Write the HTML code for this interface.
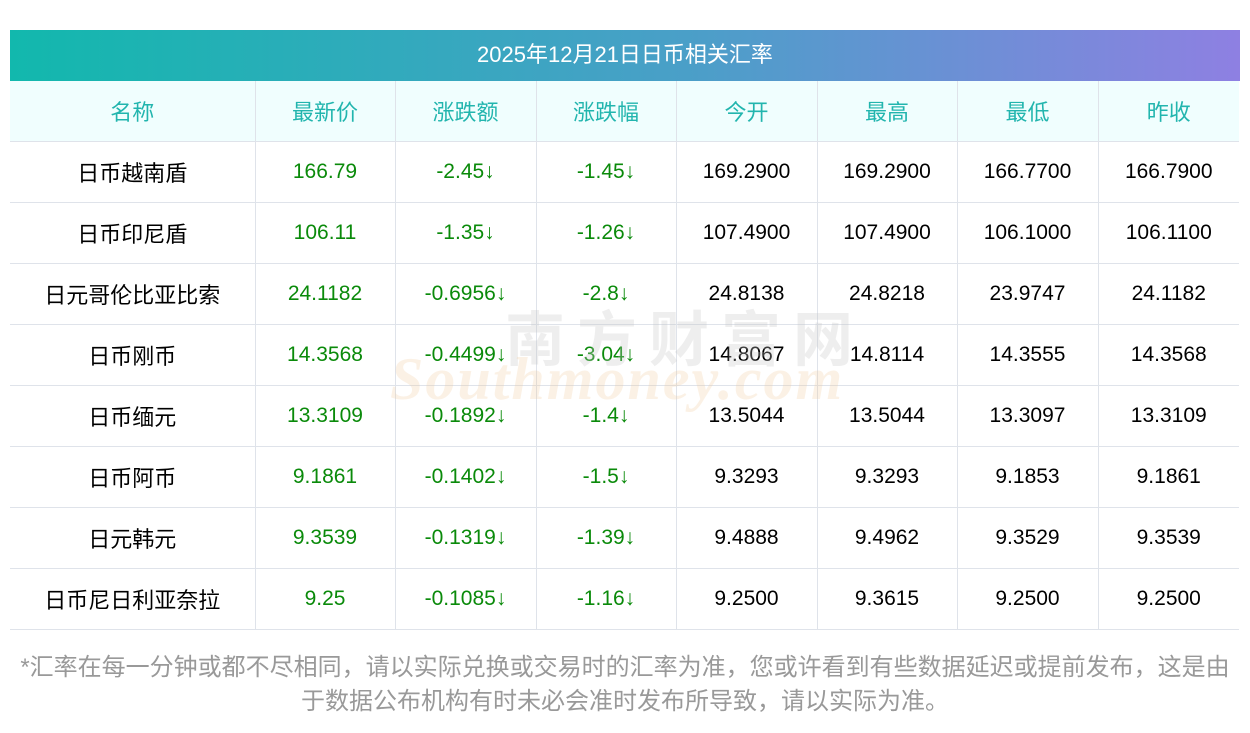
<!DOCTYPE html>
<html><head><meta charset="utf-8"><style>
body{margin:0;width:1250px;height:733px;background:#fff;font-family:"Liberation Sans","Noto Sans CJK SC",sans-serif;position:relative;overflow:hidden}
.title{position:absolute;left:10px;top:30px;width:1230px;height:51px;background:linear-gradient(90deg,#12b8ad,#4a9fc8 55%,#8e80e2);color:#fff;font-size:22px;line-height:49px;text-align:center}
table{position:absolute;left:10px;top:81px;border-collapse:collapse;width:1229px;table-layout:fixed}
td{height:60px;border-bottom:1px solid #dfe3ea;border-left:1px solid #dfe3ea;text-align:center;font-size:21px;padding:0;color:#000}
td:first-child{border-left:none;font-size:22px}
tr.h td{background:#f0fefe;color:#22b5ae;font-size:22px}
.g{color:#0a8a0a}
.wm{position:absolute;left:390px;top:290px;color:rgba(240,200,150,0.25);font-size:60px;font-weight:bold;font-family:"Liberation Serif",serif;font-style:italic;letter-spacing:2px}
.wm2{position:absolute;left:505px;top:292px;color:rgba(200,200,200,0.3);font-size:60px;font-weight:bold;letter-spacing:12px;font-family:"Noto Sans CJK SC",sans-serif}
.note{position:absolute;left:0;top:651px;width:1250px;text-align:center;color:#999;font-size:24px;line-height:34px}
</style></head><body>
<div class="title">2025年12月21日日币相关汇率</div>
<table>
<colgroup><col style="width:245px"><col style="width:140px"><col style="width:141px"><col style="width:140px"><col style="width:141px"><col style="width:140px"><col style="width:141px"><col style="width:141px"></colgroup>
<tr class="h"><td>名称</td><td>最新价</td><td>涨跌额</td><td>涨跌幅</td><td>今开</td><td>最高</td><td>最低</td><td>昨收</td></tr>
<tr><td>日币越南盾</td><td class="g">166.79</td><td class="g">-2.45↓</td><td class="g">-1.45↓</td><td>169.2900</td><td>169.2900</td><td>166.7700</td><td>166.7900</td></tr>
<tr><td>日币印尼盾</td><td class="g">106.11</td><td class="g">-1.35↓</td><td class="g">-1.26↓</td><td>107.4900</td><td>107.4900</td><td>106.1000</td><td>106.1100</td></tr>
<tr><td>日元哥伦比亚比索</td><td class="g">24.1182</td><td class="g">-0.6956↓</td><td class="g">-2.8↓</td><td>24.8138</td><td>24.8218</td><td>23.9747</td><td>24.1182</td></tr>
<tr><td>日币刚币</td><td class="g">14.3568</td><td class="g">-0.4499↓</td><td class="g">-3.04↓</td><td>14.8067</td><td>14.8114</td><td>14.3555</td><td>14.3568</td></tr>
<tr><td>日币缅元</td><td class="g">13.3109</td><td class="g">-0.1892↓</td><td class="g">-1.4↓</td><td>13.5044</td><td>13.5044</td><td>13.3097</td><td>13.3109</td></tr>
<tr><td>日币阿币</td><td class="g">9.1861</td><td class="g">-0.1402↓</td><td class="g">-1.5↓</td><td>9.3293</td><td>9.3293</td><td>9.1853</td><td>9.1861</td></tr>
<tr><td>日元韩元</td><td class="g">9.3539</td><td class="g">-0.1319↓</td><td class="g">-1.39↓</td><td>9.4888</td><td>9.4962</td><td>9.3529</td><td>9.3539</td></tr>
<tr><td>日币尼日利亚奈拉</td><td class="g">9.25</td><td class="g">-0.1085↓</td><td class="g">-1.16↓</td><td>9.2500</td><td>9.3615</td><td>9.2500</td><td>9.2500</td></tr>
</table>
<div class="wm2">南方财富网</div>
<div class="wm" style="top:345px">Southmoney.com</div>
<div class="note">*汇率在每一分钟或都不尽相同，请以实际兑换或交易时的汇率为准，您或许看到有些数据延迟或提前发布，这是由<br>于数据公布机构有时未必会准时发布所导致，请以实际为准。</div>
</body></html>
